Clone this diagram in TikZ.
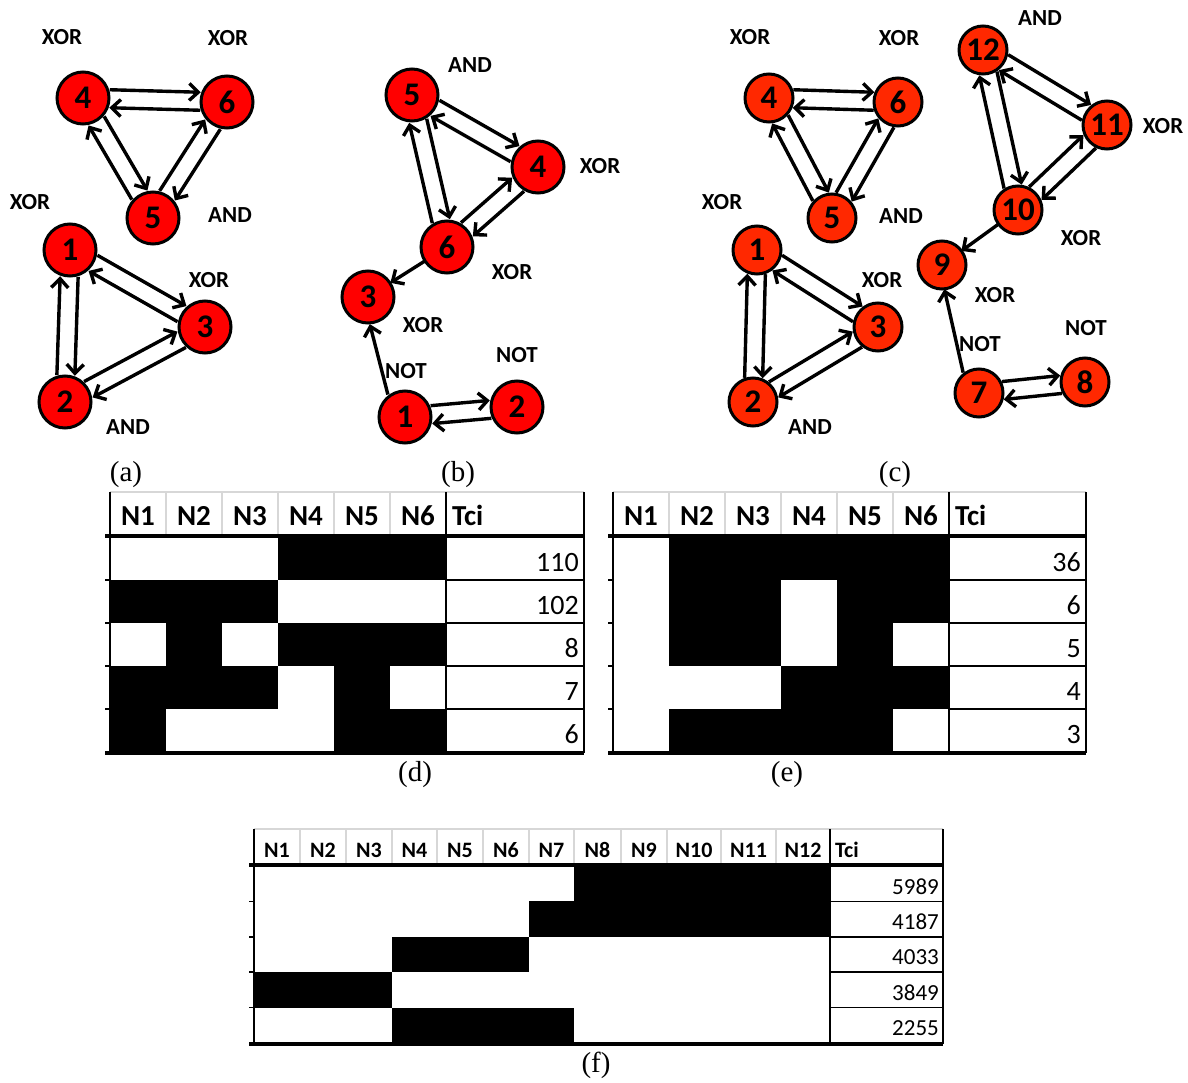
\documentclass[tikz,border=0pt]{standalone}
\usepackage{fontspec}
\setmainfont{Liberation Serif}
\newfontfamily\carlito{Carlito}
\usetikzlibrary{arrows.meta,calc}

\definecolor{gateRed}{RGB}{255,0,0}
\definecolor{gateOrange}{RGB}{255,40,0}
\definecolor{hdGray}{RGB}{215,215,215}

\tikzset{
  gate/.style={circle, draw, line width=3pt, fill=gateRed, minimum size=52pt, inner sep=0pt,
    font=\fontsize{33}{35}\selectfont\carlito\bfseries},
  wire/.style={-{Straight Barb[length=9pt,width=17pt]}, line width=3.4pt,
    shorten >=26.5pt, shorten <=26.5pt},
  kind/.style={font=\fontsize{23}{25}\selectfont\carlito\bfseries, inner sep=0pt},
  subcap/.style={font=\fontsize{29}{32}\selectfont, inner sep=0pt},
  hd/.style={font=\fontsize{29}{31}\selectfont\carlito\bfseries, inner sep=0pt, anchor=base},
  num/.style={font=\fontsize{28}{30}\selectfont\carlito, inner sep=0pt, anchor=base east},
  sep/.style={hdGray, line width=1.2pt},
  rule/.style={black, line width=1.6pt}
}

% two opposite arrows side by side
\newcommand{\pair}[2]{%
  \draw[wire] ($(#1.center)!9pt!90:(#2.center)$) -- ($(#2.center)!9pt!-90:(#1.center)$);
  \draw[wire] ($(#2.center)!9pt!90:(#1.center)$) -- ($(#1.center)!9pt!-90:(#2.center)$);}

\begin{document}
\begin{tikzpicture}[x=1pt, y=-1pt]
  \useasboundingbox (0,0) rectangle (1188,1083);
  \fill[white] (0,0) rectangle (1188,1083);

  % (a)
  \node[gate] (a4) at (83,98) {4};
  \node[gate] (a6) at (227,102) {6};
  \node[gate] (a5) at (153,218) {5};
  \node[gate] (a1) at (70,250) {1};
  \node[gate] (a3) at (205,327) {3};
  \node[gate] (a2) at (65,402) {2};
  \node[kind] (ta4) at (62,37) {XOR};
  \node[kind] (ta6) at (228,38) {XOR};
  \node[kind] (ta5) at (230,215) {AND};
  \node[kind] (ta1) at (30,202) {XOR};
  \node[kind] (ta3) at (209,280) {XOR};
  \node[kind] (ta2) at (128,427) {AND};
  \pair{a4}{a6} \pair{a4}{a5} \pair{a5}{a6}
  \pair{a1}{a3} \pair{a1}{a2} \pair{a2}{a3}

  % (b)
  \node[gate] (b5) at (412,95) {5};
  \node[gate] (b4) at (538,167) {4};
  \node[gate] (b6) at (447,247) {6};
  \node[gate] (b3) at (368,297) {3};
  \node[gate] (b1) at (405,417) {1};
  \node[gate] (b2) at (517,407) {2};
  \node[kind] (tb5) at (470,65) {AND};
  \node[kind] (tb4) at (600,166) {XOR};
  \node[kind] (tb6) at (512,272) {XOR};
  \node[kind] (tb3) at (423,325) {XOR};
  \node[kind] (tb1) at (406,371) {NOT};
  \node[kind] (tb2) at (517,355) {NOT};
  \pair{b5}{b4} \pair{b5}{b6} \pair{b6}{b4} \pair{b1}{b2}
  \draw[wire] (b6.center) -- (b3.center);
  \draw[wire] ($(b1.center)!11pt!90:(b3.center)$) -- ($(b3.center)!5pt!-90:(b1.center)$);

  % (c)
  \begin{scope}[gate/.append style={fill=gateOrange, minimum size=48pt},
      wire/.append style={shorten >=24pt, shorten <=24pt}]
    \node[gate] (c4) at (769,98) {4};
    \node[gate] (c6) at (898,102) {6};
    \node[gate] (c5) at (832,218) {5};
    \node[gate] (c1) at (757,250) {1};
    \node[gate] (c3) at (878,327) {3};
    \node[gate] (c2) at (753,402) {2};
    \node[gate] (c12) at (983,50) {12};
    \node[gate] (c11) at (1107,125) {11};
    \node[gate] (c10) at (1018,210) {10};
    \node[gate] (c9) at (942,265) {9};
    \node[gate] (c7) at (979,393) {7};
    \node[gate] (c8) at (1085,382) {8};
    \node[kind] (tc4) at (750,37) {XOR};
    \node[kind] (tc6) at (899,38) {XOR};
    \node[kind] (tc5) at (901,216) {AND};
    \node[kind] (tc1) at (722,202) {XOR};
    \node[kind] (tc3) at (882,280) {XOR};
    \node[kind] (tc2) at (810,427) {AND};
    \node[kind] (tc12) at (1040,18) {AND};
    \node[kind] (tc11) at (1163,126) {XOR};
    \node[kind] (tc10) at (1081,238) {XOR};
    \node[kind] (tc9) at (995,295) {XOR};
    \node[kind] (tc7) at (980,344) {NOT};
    \node[kind] (tc8) at (1086,328) {NOT};
    \pair{c4}{c6} \pair{c4}{c5} \pair{c5}{c6}
    \pair{c1}{c3} \pair{c1}{c2} \pair{c2}{c3}
    \pair{c12}{c11} \pair{c12}{c10} \pair{c10}{c11} \pair{c7}{c8}
    \draw[wire] (c10.center) -- (c9.center);
    \draw[wire] ($(c7.center)!11pt!90:(c9.center)$) -- ($(c9.center)!3pt!-90:(c7.center)$);
  \end{scope}

  \node[subcap] (capa) at (126,475) {(a)};
  \node[subcap] (capb) at (458,475) {(b)};
  \node[subcap] (capc) at (895,475) {(c)};

  % table (d)
  \foreach \bits [count=\i from 0] in {{0,0,0,1,1,1},{1,1,1,0,0,0},{0,1,0,1,1,1},{1,1,1,0,1,0},{1,0,0,0,1,1}}
    \foreach \bit [count=\j from 0] in \bits
      {\ifnum\bit=1 \fill (110+56*\j,537+43*\i) rectangle ++(56,43);\fi}
  \foreach \lab [count=\j from 0] in {N1,N2,N3,N4,N5,N6}
    \node[hd] (dh\j) at (138+56*\j,525) {\lab};
  \node[hd, anchor=base west] (dhT) at (452,525) {Tci};
  \foreach \j in {1,...,5} \draw[sep] (110+56*\j,492) -- ++(0,43);
  \draw[sep] (110,492) -- (584,492);
  \draw[rule] (110,492) -- (110,753) (446,492) -- (446,753) (584,492) -- (584,753);
  \foreach \val [count=\i from 0] in {110,102,8,7,6} {
    \node[num] (dv\i) at (579,571+43*\i) {\val};
    \draw[rule] (105,580+43*\i) -- (110,580+43*\i) (446,580+43*\i) -- (584,580+43*\i);
  }
  \draw[line width=4pt] (105,535.5) -- (584,535.5) (105,753) -- (584,753);
  \node[subcap] (capd) at (415,775) {(d)};

  % table (e)
  \foreach \bits [count=\i from 0] in {{0,1,1,1,1,1},{0,1,1,0,1,1},{0,1,1,0,1,0},{0,0,0,1,1,1},{0,1,1,1,1,0}}
    \foreach \bit [count=\j from 0] in \bits
      {\ifnum\bit=1 \fill (613+56*\j,537+43*\i) rectangle ++(56,43);\fi}
  \foreach \lab [count=\j from 0] in {N1,N2,N3,N4,N5,N6}
    \node[hd] (eh\j) at (641+56*\j,525) {\lab};
  \node[hd, anchor=base west] (ehT) at (955,525) {Tci};
  \foreach \j in {1,...,5} \draw[sep] (613+56*\j,492) -- ++(0,43);
  \draw[sep] (613,492) -- (1086,492);
  \draw[rule] (613,492) -- (613,753) (949,492) -- (949,753) (1086,492) -- (1086,753);
  \foreach \val [count=\i from 0] in {36,6,5,4,3} {
    \node[num] (ev\i) at (1081,571+43*\i) {\val};
    \draw[rule] (608,580+43*\i) -- (613,580+43*\i) (949,580+43*\i) -- (1086,580+43*\i);
  }
  \draw[line width=4pt] (608,535.5) -- (1086,535.5) (608,753) -- (1086,753);
  \node[subcap] (cape) at (787,775) {(e)};

  % table (f)
  \begin{scope}[hd/.append style={font=\fontsize{22}{24}\selectfont\carlito\bfseries},
      num/.append style={font=\fontsize{23}{25}\selectfont\carlito}]
    \foreach \xa/\xb [count=\i from 0] in {574/830,529/830,392/529,254/392,392/574}
      \fill (\xa,866+35.4*\i) rectangle (\xb,901.4+35.4*\i);
    \foreach \lab/\xc in {N1/277,N2/323,N3/369,N4/414.5,N5/460,N6/506,N7/551.5,N8/597.5,N9/644,N10/694,N11/748.5,N12/803}
      \node[hd] (fh\lab) at (\xc,857) {\lab};
    \node[hd, anchor=base west] (fhT) at (835,857) {Tci};
    \foreach \xs in {300,346,392,437,483,529,574,621,667,721,776}
      \draw[sep] (\xs,829) -- ++(0,35);
    \draw[sep] (254,829) -- (943,829);
    \draw[rule] (254,829) -- (254,1044) (830,829) -- (830,1044) (943,829) -- (943,1044);
    \foreach \val [count=\i from 0] in {5989,4187,4033,3849,2255} {
      \node[num] (fv\i) at (939,894+35.4*\i) {\val};
      \draw[rule] (249,901.4+35.4*\i) -- (254,901.4+35.4*\i) (830,901.4+35.4*\i) -- (943,901.4+35.4*\i);
    }
    \draw[line width=3.5pt] (249,865) -- (943,865) (249,1044) -- (943,1044);
  \end{scope}
  \node[subcap] (capf) at (596,1065) {(f)};
\end{tikzpicture}
\end{document}
